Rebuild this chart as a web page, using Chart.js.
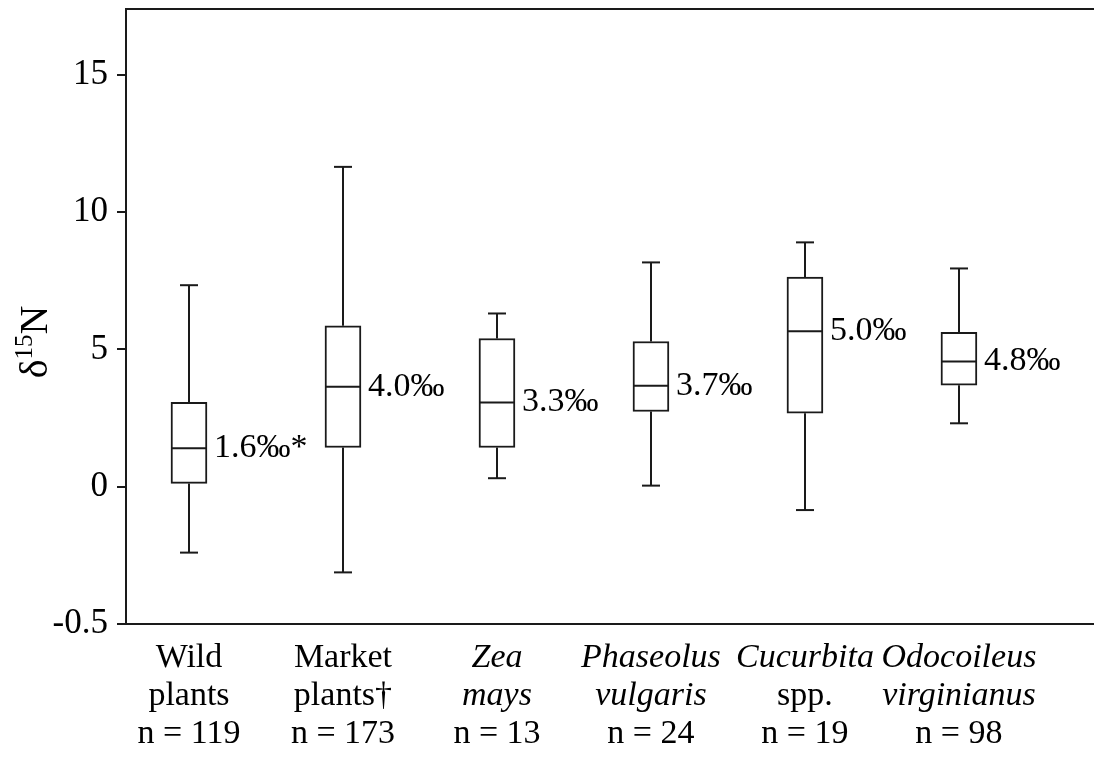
<!DOCTYPE html>
<html>
<head>
<meta charset="utf-8">
<title>δ15N by group</title>
<script src="https://cdn.jsdelivr.net/npm/chart.js@4.4.1/dist/chart.umd.min.js"></script>
<style>
  html, body { margin: 0; padding: 0; background: #ffffff; }
  #wrap { width: 1094px; height: 757px; }
</style>
</head>
<body>
<div id="wrap"><canvas id="chart" width="1094" height="757"></canvas></div>
<script>
// ---- Groups (three label lines under each box) ----
const groupLine1 = ['Wild', 'Market', 'Zea', 'Phaseolus', 'Cucurbita', 'Odocoileus'];
const groupLine2 = ['plants', 'plants†', 'mays', 'vulgaris', 'spp.', 'virginianus'];
const scientificName = [false, false, true, true, true, true];
const sampleSizes = [119, 173, 13, 24, 19, 98];

// ---- δ15N five-number summaries (‰) ----
const whiskerLow  = [-2.40, -3.12, 0.31, 0.04, -0.85, 2.31];
const quartile1   = [0.12, 1.43, 1.43, 2.74, 2.68, 3.70];
const medians     = [1.40, 3.64, 3.07, 3.68, 5.66, 4.56];
const quartile3   = [3.07, 5.86, 5.40, 5.29, 7.64, 5.62];
const whiskerHigh = [7.34, 11.65, 6.31, 8.17, 8.90, 7.95];

// ---- Group means printed beside each box ----
const means = [1.6, 4.0, 3.3, 3.7, 5.0, 4.8];
const meanMarks = ['*', '', '', '', '', ''];

// ---- Value axis ----
const yTickValues = [-5, 0, 5, 10, 15];
const yTickLabels = ['-0.5', '0', '5', '10', '15'];

const INK = '#1a1a1a';
const SERIF = '"Liberation Serif", "Times New Roman", serif';
const X_MIN = 0.591, X_MAX = 6.877;
const BOX_W = 36, CAP_W = 18;

const slotTicks = scale => { scale.ticks = groupLine1.map((_, i) => ({ value: i + 1 })); };
const noPad = scale => { scale.paddingLeft = 0; scale.paddingRight = 0; scale.paddingTop = 0; scale.paddingBottom = 0; };

// One bottom axis per label line; each line keeps its own upright/italic style
function labelAxis(weight, height, pad, textFor, italicFor, border) {
  return {
    type: 'linear', position: 'bottom', weight: weight, offset: false,
    min: X_MIN, max: X_MAX,
    afterBuildTicks: slotTicks,
    afterFit: s => { s.height = height; noPad(s); },
    grid: { display: false, drawTicks: false, offset: false },
    border: { display: border, color: INK, width: 2 },
    ticks: {
      autoSkip: false, maxRotation: 0, minRotation: 0, padding: pad, color: '#000',
      font: ctx => ({ family: SERIF, size: 34, lineHeight: 1, style: italicFor(ctx.index) ? 'italic' : 'normal' }),
      callback: (v, i) => textFor(i)
    }
  };
}

// Whiskers, caps, medians and mean labels, placed through the chart scales
const boxDetails = {
  id: 'boxDetails',
  afterDatasetsDraw(chart) {
    const { ctx, scales: { x, y } } = chart;
    const seg = (x1, y1, x2, y2) => { ctx.beginPath(); ctx.moveTo(x1, y1); ctx.lineTo(x2, y2); ctx.stroke(); };
    ctx.save();
    ctx.strokeStyle = INK;
    ctx.lineWidth = 2;
    groupLine1.forEach((_, i) => {
      const px = Math.round(x.getPixelForValue(i + 1));
      const lo = y.getPixelForValue(whiskerLow[i]);
      const q1 = y.getPixelForValue(quartile1[i]);
      const md = y.getPixelForValue(medians[i]);
      const q3 = y.getPixelForValue(quartile3[i]);
      const hi = y.getPixelForValue(whiskerHigh[i]);
      seg(px, q1, px, lo);
      seg(px - CAP_W / 2, lo, px + CAP_W / 2, lo);
      seg(px, q3, px, hi);
      seg(px - CAP_W / 2, hi, px + CAP_W / 2, hi);
      seg(px - BOX_W / 2, md, px + BOX_W / 2, md);

      ctx.fillStyle = '#000';
      ctx.font = '34px ' + SERIF;
      ctx.textAlign = 'left';
      ctx.textBaseline = 'middle';
      ctx.fillText(means[i].toFixed(1) + '‰' + meanMarks[i], px + BOX_W / 2 + 7, md);
    });
    ctx.restore();
  }
};

// Rotated axis title δ15N with raised mass number
const yTitle = {
  id: 'yTitle',
  afterDraw(chart) {
    const { ctx } = chart;
    const big = '40px ' + SERIF, small = '25px ' + SERIF;
    ctx.save();
    ctx.fillStyle = '#000';
    ctx.textBaseline = 'alphabetic';
    ctx.textAlign = 'left';
    ctx.font = big;  const wD = ctx.measureText('δ').width, wN = ctx.measureText('N').width;
    ctx.font = small; const wS = ctx.measureText('15').width;
    const total = wD + wS + wN;
    ctx.translate(47, 342);
    ctx.rotate(-Math.PI / 2);
    let cx = -total / 2;
    ctx.font = big;   ctx.fillText('δ', cx, 0); cx += wD;
    ctx.font = small; ctx.fillText('15', cx, -15); cx += wS;
    ctx.font = big;   ctx.fillText('N', cx, 0);
    ctx.restore();
  }
};

new Chart(document.getElementById('chart'), {
  type: 'bar',
  data: {
    datasets: [{
      xAxisID: 'x', yAxisID: 'y',
      data: groupLine1.map((_, i) => ({ x: i + 1, y: [quartile1[i], quartile3[i]] })),
      backgroundColor: '#ffffff',
      borderColor: INK,
      borderWidth: 2,
      borderSkipped: false,
      barThickness: BOX_W
    }]
  },
  options: {
    responsive: false,
    devicePixelRatio: 1,
    animation: false,
    layout: { padding: { top: 9, right: 0, bottom: 0, left: 0 } },
    plugins: { legend: { display: false }, tooltip: { enabled: false } },
    scales: {
      x: labelAxis(1, 53, 17, i => groupLine1[i], i => scientificName[i], true),
      x2: labelAxis(2, 38, 2, i => groupLine2[i], i => scientificName[i] && groupLine2[i] !== 'spp.', false),
      x3: labelAxis(3, 42, 2, i => 'n = ' + sampleSizes[i], () => false, false),
      xTop: {
        type: 'linear', position: 'top', min: X_MIN, max: X_MAX, offset: false,
        ticks: { display: false },
        grid: { display: false, drawTicks: false },
        border: { display: true, color: INK, width: 2 },
        afterFit: s => { s.height = 0; noPad(s); }
      },
      y: {
        type: 'linear', position: 'left', min: -5, max: 17.4,
        afterBuildTicks: s => { s.ticks = yTickValues.map(v => ({ value: v })); },
        afterFit: s => { s.width = 126; noPad(s); },
        grid: { drawOnChartArea: false, drawTicks: true, tickLength: 9, color: INK, lineWidth: 2 },
        border: { display: true, color: INK, width: 2 },
        ticks: {
          padding: 9, color: '#000',
          font: { family: SERIF, size: 35 },
          callback: (v, i) => yTickLabels[i]
        }
      }
    }
  },
  plugins: [boxDetails, yTitle]
});
</script>
</body>
</html>
